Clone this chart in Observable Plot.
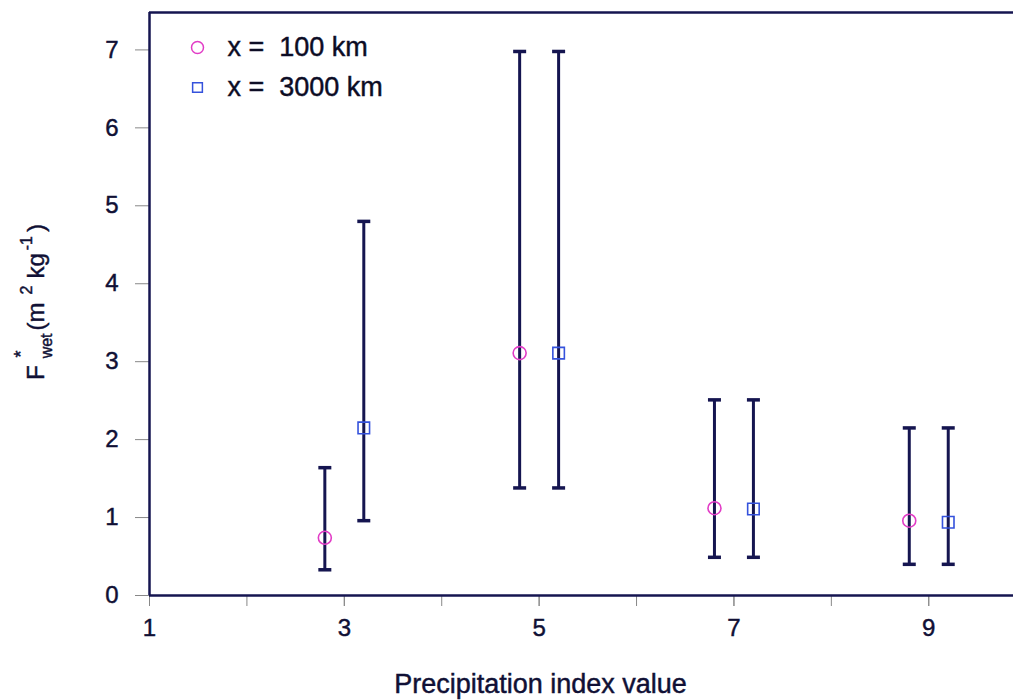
<!DOCTYPE html>
<html>
<head>
<meta charset="utf-8">
<script src="https://cdn.jsdelivr.net/npm/d3@7"></script>
<script src="https://cdn.jsdelivr.net/npm/@observablehq/plot@0.6"></script>
<style>
  html, body { margin: 0; padding: 0; background: #fff; }
  #chart svg { display: block; }
  #chart svg text { stroke: #101035; stroke-width: 0.45px; }
</style>
</head>
<body>
<div id="chart"></div>
<script>
// ---- data ----
const seriesNames = ["x = 100 km", "x = 3000 km"];
const xNear = [2.8, 4.8, 6.8, 8.8];
const yNear = [0.74, 3.11, 1.12, 0.96];
const loNear = [0.33, 1.38, 0.49, 0.40];
const hiNear = [1.64, 6.98, 2.51, 2.15];
const xFar = [3.2, 5.2, 7.2, 9.2];
const yFar = [2.15, 3.11, 1.11, 0.94];
const loFar = [0.96, 1.38, 0.49, 0.40];
const hiFar = [4.80, 6.98, 2.51, 2.15];
const xTicksMinor = [1, 2, 3, 4, 5, 6, 7, 8, 9];
const xTickLabels = [1, 3, 5, 7, 9];
const yTicks = [0, 1, 2, 3, 4, 5, 6, 7];
const xLabel = "Precipitation index value";

const rows = [
  ...xNear.map((x, i) => ({series: seriesNames[0], x, y: yNear[i], lo: loNear[i], hi: hiNear[i]})),
  ...xFar.map((x, i) => ({series: seriesNames[1], x, y: yFar[i], lo: loFar[i], hi: hiFar[i]}))
];

const navy = "#151550";
const textColor = "#101035";
const magenta = "#e23cc6";
const blue = "#3552dc";
const font = "'Liberation Sans', Arial, Helvetica, sans-serif";

const capSymbol = {
  draw(ctx, size) {
    const r = Math.sqrt(size / Math.PI);
    ctx.moveTo(-r, 0);
    ctx.lineTo(r, 0);
  }
};

const chart = Plot.plot({
  width: 1013,
  height: 700,
  marginLeft: 149,
  marginRight: 0,
  marginTop: 12,
  marginBottom: 105,
  style: {fontFamily: font, fontSize: "24px", color: textColor, background: "#fff"},
  x: {domain: [1, 9.87]},
  y: {domain: [0, 7.48]},
  marks: [
    Plot.axisX({ticks: xTicksMinor, tickSize: 11, tickFormat: () => "", stroke: "#888", label: null}),
    Plot.axisX({ticks: xTickLabels, tickSize: 11, tickPadding: 12, stroke: "#888", label: null, fontSize: 24}),
    Plot.axisY({ticks: yTicks, tickSize: 14, tickPadding: 17, stroke: "#888", label: null, fontSize: 24}),
    Plot.ruleY([0], {stroke: navy, strokeWidth: 2.5}),
    Plot.ruleY([7.48], {stroke: navy, strokeWidth: 2.5}),
    Plot.ruleX([1], {stroke: navy, strokeWidth: 2.5}),
    Plot.ruleX(rows, {x: "x", y1: "lo", y2: "hi", stroke: navy, strokeWidth: 3}),
    Plot.dot(rows, {x: "x", y: "lo", symbol: capSymbol, r: 6.5, stroke: navy, strokeWidth: 3.5}),
    Plot.dot(rows, {x: "x", y: "hi", symbol: capSymbol, r: 6.5, stroke: navy, strokeWidth: 3.5}),
    Plot.dot(rows, {
      x: "x", y: "y",
      symbol: d => d.series === seriesNames[0] ? "circle" : "square",
      stroke: d => d.series === seriesNames[0] ? magenta : blue,
      fill: "none", r: 6.5, strokeWidth: 1.6
    }),
    // legend
    Plot.dot([seriesNames[0]], {frameAnchor: "top-left", dx: 48, dy: 35, symbol: "circle", r: 6, stroke: magenta, strokeWidth: 1.5, fill: "none"}),
    Plot.dot([seriesNames[1]], {frameAnchor: "top-left", dx: 48, dy: 75, symbol: "square", r: 5.5, stroke: blue, strokeWidth: 1.5, fill: "none"}),
    Plot.text([seriesNames[0]], {frameAnchor: "top-left", lineAnchor: "middle", dx: 78, dy: 35, text: d => d.replace("= ", "=\u00a0 "), textAnchor: "start", fontSize: 27, fill: "#0c0c20"}),
    Plot.text([seriesNames[1]], {frameAnchor: "top-left", lineAnchor: "middle", dx: 78, dy: 75, text: d => d.replace("= ", "=\u00a0 "), textAnchor: "start", fontSize: 27, fill: "#0c0c20"}),
    // x axis title
    Plot.text([xLabel], {frameAnchor: "bottom", lineAnchor: "bottom", dx: -41, dy: 97, text: d => d, fontSize: 27, fill: textColor})
  ]
});

document.getElementById("chart").appendChild(chart);

// y-axis title with sub/superscripts
const svg = d3.select(chart);
const t = svg.append("text")
  .attr("transform", "translate(44,302) rotate(-90)")
  .attr("text-anchor", "middle")
  .attr("font-family", font)
  .attr("font-size", 24)
  .attr("fill", textColor);
t.append("tspan").text("F");
t.append("tspan").attr("font-size", 16).attr("dx", 7).attr("dy", 8).text("wet");
t.append("tspan").attr("font-size", 18).attr("dx", -24).attr("dy", -25).text("*");
t.append("tspan").attr("dx", 20).attr("dy", 17).text("(m");
t.append("tspan").attr("font-size", 16).attr("dx", 8).attr("dy", -12).text("2");
t.append("tspan").attr("dx", 7).attr("dy", 12).text("kg");
t.append("tspan").attr("font-size", 16).attr("dx", 3).attr("dy", -12).text("-1");
t.append("tspan").attr("dx", 4).attr("dy", 12).text(")");
</script>
</body>
</html>
